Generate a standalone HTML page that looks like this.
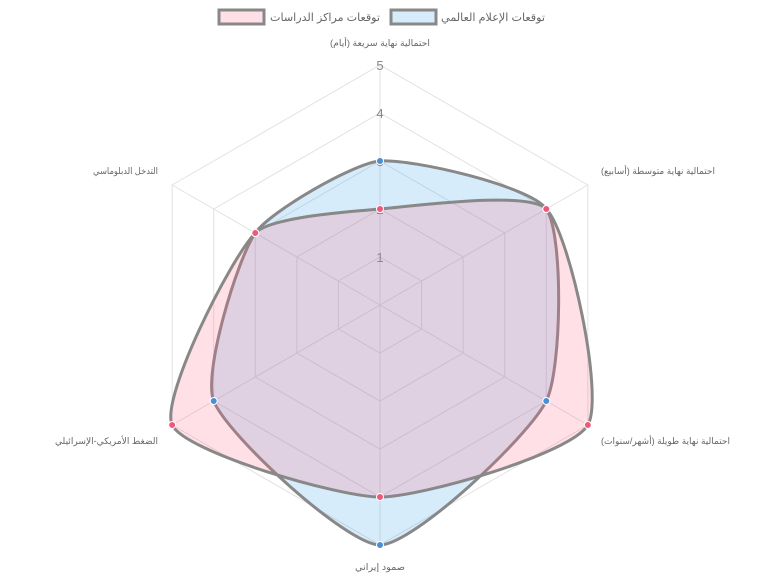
<!DOCTYPE html>
<html><head><meta charset="utf-8"><style>
body{margin:0;background:#fff;width:760px;height:575px;overflow:hidden}
svg{display:block}
text{font-family:"Liberation Sans","DejaVu Sans",sans-serif}
</style></head><body>
<svg id="s" width="760" height="575" xmlns="http://www.w3.org/2000/svg">
<g id="grid" stroke="#e2e2e2" stroke-width="1" fill="none"></g>
<rect x="219" y="10" width="45" height="14" fill="#ffe0e6" stroke="#888" stroke-width="3"/>
<text x="270" y="21" font-size="11" fill="#666" textLength="110" lengthAdjust="spacingAndGlyphs">توقعات مراكز الدراسات</text>
<rect x="391" y="10" width="45" height="14" fill="#d7ecfb" stroke="#888" stroke-width="3"/>
<text x="441" y="21" font-size="11" fill="#666" textLength="104" lengthAdjust="spacingAndGlyphs">توقعات الإعلام العالمي</text>
<g font-size="9" fill="#666" lengthAdjust="spacingAndGlyphs">
<text x="330" y="46" textLength="100" lengthAdjust="spacingAndGlyphs">احتمالية نهاية سريعة (أيام)</text>
<text x="601" y="174" textLength="114" lengthAdjust="spacingAndGlyphs">احتمالية نهاية متوسطة (أسابيع)</text>
<text x="601" y="444" textLength="129" lengthAdjust="spacingAndGlyphs">احتمالية نهاية طويلة (أشهر/سنوات)</text>
<text x="355" y="570" textLength="50" lengthAdjust="spacingAndGlyphs">صمود إيراني</text>
<text x="55" y="444" textLength="103" lengthAdjust="spacingAndGlyphs">الضغط الأمريكي-الإسرائيلي</text>
<text x="93" y="174" textLength="65" lengthAdjust="spacingAndGlyphs">التدخل الدبلوماسي</text>
</g>
<g font-size="13" fill="#888" text-anchor="middle">
<text x="380" y="70">5</text><text x="380" y="118">4</text><text x="380" y="166">3</text><text x="380" y="214">2</text><text x="380" y="262">1</text>
</g>
<g id="data"></g>
</svg>
<script>
var cx=380,cy=305,u=48;
function pt(i,v){var a=i*Math.PI/3;return [cx+v*u*Math.sin(a),cy-v*u*Math.cos(a)];}
var g=document.getElementById('grid'),h='';
for(var r=1;r<=5;r++){var p=[];for(var i=0;i<6;i++)p.push(pt(i,r).join(','));h+='<polygon points="'+p.join(' ')+'"/>';}
for(var i=0;i<6;i++){var q=pt(i,5);h+='<line x1="'+cx+'" y1="'+cy+'" x2="'+q[0]+'" y2="'+q[1]+'"/>';}
g.innerHTML=h;
function path(vals,t){var P=vals.map(function(v,i){return pt(i,v)}),n=P.length,c=[];
for(var i=0;i<n;i++){var a=P[(i-1+n)%n],b=P[i],d=P[(i+1)%n];
var d01=Math.hypot(b[0]-a[0],b[1]-a[1]),d12=Math.hypot(d[0]-b[0],d[1]-b[1]);
var fa=t*d01/(d01+d12),fb=t*d12/(d01+d12);
c.push({p:[b[0]-fa*(d[0]-a[0]),b[1]-fa*(d[1]-a[1])],n:[b[0]+fb*(d[0]-a[0]),b[1]+fb*(d[1]-a[1])]});}
var s='M'+P[0].join(',');
for(var i=0;i<n;i++){var j=(i+1)%n;s+=' C'+c[i].n.join(',')+' '+c[j].p.join(',')+' '+P[j].join(',');}
return {d:s+'Z',P:P};}
var blue=path([3,4,4,5,4,3],0.2),pink=path([2,4,5,4,5,3],0.2),o='';
o+='<path d="'+blue.d+'" fill="rgba(54,162,235,0.2)" stroke="#888" stroke-width="3"/>';
o+='<path d="'+pink.d+'" fill="rgba(255,99,132,0.2)" stroke="#888" stroke-width="3"/>';
blue.P.forEach(function(p){o+='<circle cx="'+p[0]+'" cy="'+p[1]+'" r="3.5" fill="#4a8fd6" stroke="#fff" stroke-width="1"/>';});
pink.P.forEach(function(p){o+='<circle cx="'+p[0]+'" cy="'+p[1]+'" r="3.5" fill="#f0587a" stroke="#fff" stroke-width="1"/>';});
document.getElementById('data').innerHTML=o;
</script>
</body></html>
